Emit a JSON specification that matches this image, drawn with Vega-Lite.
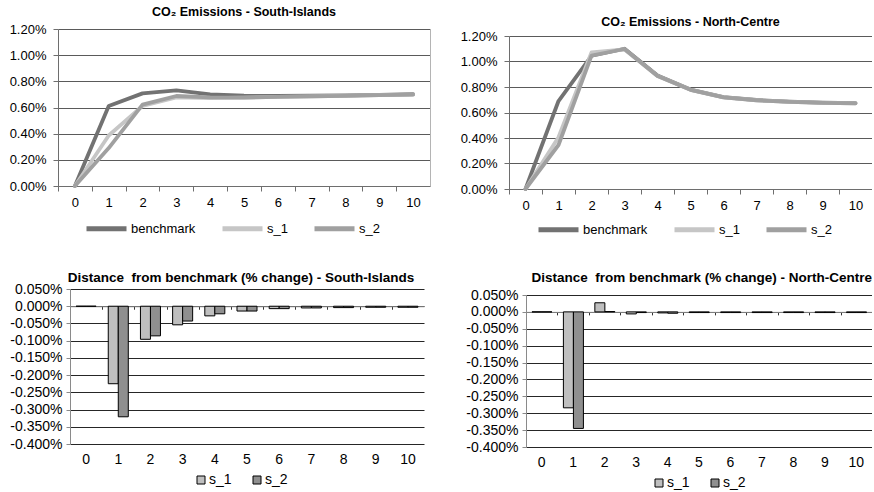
{
  "$schema": "https://vega.github.io/schema/vega-lite/v6.json",
  "padding": {"left": 2, "top": 5, "right": 0, "bottom": 0},
  "config": {
    "font": "Liberation Sans",
    "view": {"stroke": null},
    "axis": {"labelFont": "Liberation Sans", "labelColor": "#000"},
    "title": {"font": "Liberation Sans", "fontWeight": "bold", "fontSize": 13.5, "color": "#000"},
    "legend": {"labelFont": "Liberation Sans", "labelColor": "#000", "layout": {"bottom": {"anchor": "middle"}}}
  },
  "resolve": {"scale": {"color": "independent"}, "legend": {"color": "independent"}},
  "columns": 2,
  "align": "none",
  "bounds": "full",
  "spacing": {"column": 10, "row": 30},
  "concat": [
    {
      "width": 372, "height": 157,
      "title": {"text": "CO₂ Emissions - South-Islands", "offset": 5, "fontSize": 12.5},
      "data": {"name": "lines"},
      "transform": [{"filter": "datum.region == 'South-Islands'"}],
      "layer": [
        {
          "mark": {"type": "line", "strokeWidth": 3.8, "strokeJoin": "round", "strokeCap": "round"},
          "encoding": {
            "x": {"field": "t", "type": "ordinal", "scale": {"type": "point", "padding": 0.5},
              "axis": {"title": null, "labelAngle": 0, "labelFontSize": 13, "tickOffset": -16.91, "labelOffset": 16.91, "tickSize": 5, "labelPadding": 5, "domainColor": "#6e6e6e", "tickColor": "#6e6e6e", "grid": false}},
            "y": {"field": "value", "type": "quantitative", "scale": {"domain": [0, 1.2]},
              "axis": {"title": null, "values": [0, 0.2, 0.4, 0.6, 0.8, 1, 1.2], "labelExpr": "format(datum.value, '.2f') + '%'", "labelFontSize": 13, "tickSize": 5, "labelPadding": 7, "minExtent": 56, "maxExtent": 56, "grid": true, "gridColor": "#5a5a5a", "domainColor": "#6e6e6e", "tickColor": "#6e6e6e"}},
            "color": {"field": "series", "type": "nominal", "scale": {"domain": ["benchmark", "s_1", "s_2"], "range": ["#727272", "#c6c6c6", "#a0a0a0"]},
              "legend": {"orient": "none", "legendX": 26, "legendY": 177, "direction": "horizontal", "title": null, "symbolType": "stroke", "symbolStrokeWidth": 5, "symbolSize": 1600, "labelFontSize": 13, "columnPadding": 16, "labelOffset": 2}}
          }
        },
        {
          "mark": {"type": "point", "opacity": 0},
          "encoding": {
            "y": {"field": "value", "type": "quantitative", "axis": {"orient": "right", "title": null, "labels": false, "ticks": false, "grid": false, "domainColor": "#b4b4b4", "minExtent": 0, "maxExtent": 0}}
          }
        }
      ],
      "resolve": {"axis": {"y": "independent"}}
    },
    {
      "width": 363, "height": 160,
      "title": {"text": "CO₂ Emissions - North-Centre", "offset": 1, "fontSize": 12.5},
      "data": {"name": "lines"},
      "transform": [{"filter": "datum.region == 'North-Centre'"}],
      "layer": [
        {
          "mark": {"type": "line", "strokeWidth": 3.8, "strokeJoin": "round", "strokeCap": "round"},
          "encoding": {
            "x": {"field": "t", "type": "ordinal", "scale": {"type": "point", "padding": 0.5},
              "axis": {"title": null, "labelAngle": 0, "labelFontSize": 13, "tickOffset": -16.5, "labelOffset": 16.5, "tickSize": 5, "labelPadding": 5, "domainColor": "#6e6e6e", "tickColor": "#6e6e6e", "grid": false}},
            "y": {"field": "value", "type": "quantitative", "scale": {"domain": [0, 1.2], "range": [160, 7]},
              "axis": {"title": null, "values": [0, 0.2, 0.4, 0.6, 0.8, 1, 1.2], "labelExpr": "format(datum.value, '.2f') + '%'", "labelFontSize": 13, "tickSize": 5, "labelPadding": 7, "minExtent": 69, "maxExtent": 69, "grid": true, "gridColor": "#5a5a5a", "domainColor": "#6e6e6e", "tickColor": "#6e6e6e"}},
            "color": {"field": "series", "type": "nominal", "scale": {"domain": ["benchmark", "s_1", "s_2"], "range": ["#727272", "#c6c6c6", "#a0a0a0"]},
              "legend": {"orient": "none", "legendX": 27, "legendY": 178, "direction": "horizontal", "title": null, "symbolType": "stroke", "symbolStrokeWidth": 5, "symbolSize": 1600, "labelFontSize": 13, "columnPadding": 16, "labelOffset": 2}}
          }
        },
        {
          "mark": {"type": "point", "opacity": 0},
          "encoding": {
            "y": {"field": "value", "type": "quantitative", "axis": {"orient": "right", "title": null, "labels": false, "ticks": false, "grid": false, "domainColor": "#b4b4b4", "minExtent": 0, "maxExtent": 0}}
          }
        }
      ],
      "resolve": {"axis": {"y": "independent"}}
    },
    {
      "width": 366, "height": 155,
      "title": {"text": "Distance\u00a0 from benchmark (% change) - South-Islands", "offset": -2},
      "data": {"name": "diffs"},
      "transform": [{"filter": "datum.region == 'South-Islands'"}],
      "layer": [
        {
          "mark": {"type": "bar", "stroke": "#000", "strokeWidth": 1},
          "encoding": {
            "x": {"field": "t", "type": "ordinal", "scale": {"type": "band", "range": [12, 366], "paddingInner": 0.378, "paddingOuter": 0.189},
              "axis": {"title": null, "labelAngle": 0, "labelFontSize": 14, "domain": false, "ticks": false, "tickSize": 0, "labelPadding": 8, "grid": false}},
            "xOffset": {"field": "series", "type": "nominal"},
            "y": {"field": "value", "type": "quantitative", "scale": {"domain": [-0.4, 0.05]},
              "axis": {"title": null, "values": [-0.4, -0.35, -0.3, -0.25, -0.2, -0.15, -0.1, -0.05, 0, 0.05], "labelExpr": "(datum.value < -0.0001 ? '-' : '') + format(abs(datum.value), '.3f') + '%'", "labelFontSize": 14, "offset": -12, "tickSize": 4, "labelPadding": 4, "minExtent": 0, "grid": true, "gridColor": "#262626", "domainColor": "#8a8a8a", "tickColor": "#8a8a8a"}},
            "color": {"field": "series", "type": "nominal", "scale": {"domain": ["s_1", "s_2"], "range": ["#bfbfbf", "#8f8f8f"]},
              "legend": {"orient": "bottom", "direction": "horizontal", "title": null, "symbolType": "square", "symbolSize": 64, "symbolStrokeColor": "#000", "symbolStrokeWidth": 1, "labelFontSize": 14, "columnPadding": 18, "labelOffset": 1, "offset": 7}}
          }
        },
        {
          "mark": {"type": "point", "opacity": 0},
          "encoding": {
            "x": {"field": "t", "type": "ordinal", "axis": {"orient": "bottom", "title": null, "labels": false, "offset": -137.78, "tickSize": 3, "bandPosition": 0.5, "tickOffset": -16.09, "domainColor": "#8a8a8a", "tickColor": "#333", "grid": false}}
          }
        }
      ],
      "resolve": {"axis": {"x": "independent"}}
    },
    {
      "width": 346, "height": 152,
      "title": {"text": "Distance\u00a0 from benchmark (% change) - North-Centre", "offset": 4, "anchor": "end"},
      "data": {"name": "diffs"},
      "transform": [{"filter": "datum.region == 'North-Centre'"}],
      "layer": [
        {
          "mark": {"type": "bar", "stroke": "#000", "strokeWidth": 1},
          "encoding": {
            "x": {"field": "t", "type": "ordinal", "scale": {"type": "band", "paddingInner": 0.378, "paddingOuter": 0.189},
              "axis": {"title": null, "labelAngle": 0, "labelFontSize": 14, "domain": false, "ticks": false, "tickSize": 0, "labelPadding": 8, "grid": false}},
            "xOffset": {"field": "series", "type": "nominal"},
            "y": {"field": "value", "type": "quantitative", "scale": {"domain": [-0.4, 0.05]},
              "axis": {"title": null, "values": [-0.4, -0.35, -0.3, -0.25, -0.2, -0.15, -0.1, -0.05, 0, 0.05], "labelExpr": "(datum.value < -0.0001 ? '-' : '') + format(abs(datum.value), '.3f') + '%'", "labelFontSize": 14, "tickSize": 4, "labelPadding": 4, "minExtent": 86, "maxExtent": 86, "grid": true, "gridColor": "#262626", "domainColor": "#8a8a8a", "tickColor": "#8a8a8a"}},
            "color": {"field": "series", "type": "nominal", "scale": {"domain": ["s_1", "s_2"], "range": ["#bfbfbf", "#8f8f8f"]},
              "legend": {"orient": "bottom", "direction": "horizontal", "title": null, "symbolType": "square", "symbolSize": 64, "symbolStrokeColor": "#000", "symbolStrokeWidth": 1, "labelFontSize": 14, "columnPadding": 18, "labelOffset": 1, "offset": 7}}
          }
        },
        {
          "mark": {"type": "point", "opacity": 0},
          "encoding": {
            "x": {"field": "t", "type": "ordinal", "axis": {"orient": "bottom", "title": null, "labels": false, "offset": -135.11, "tickSize": 3, "bandPosition": 0.5, "tickOffset": -15.73, "domainColor": "#8a8a8a", "tickColor": "#333", "grid": false}}
          }
        }
      ],
      "resolve": {"axis": {"x": "independent"}}
    }
  ],
  "datasets": {
    "lines": [
      {"region": "South-Islands", "series": "benchmark", "t": 0, "value": 0},
      {"region": "South-Islands", "series": "benchmark", "t": 1, "value": 0.611},
      {"region": "South-Islands", "series": "benchmark", "t": 2, "value": 0.708},
      {"region": "South-Islands", "series": "benchmark", "t": 3, "value": 0.731},
      {"region": "South-Islands", "series": "benchmark", "t": 4, "value": 0.700},
      {"region": "South-Islands", "series": "benchmark", "t": 5, "value": 0.690},
      {"region": "South-Islands", "series": "benchmark", "t": 6, "value": 0.688},
      {"region": "South-Islands", "series": "benchmark", "t": 7, "value": 0.690},
      {"region": "South-Islands", "series": "benchmark", "t": 8, "value": 0.693},
      {"region": "South-Islands", "series": "benchmark", "t": 9, "value": 0.697},
      {"region": "South-Islands", "series": "benchmark", "t": 10, "value": 0.702},
      {"region": "South-Islands", "series": "s_1", "t": 0, "value": 0},
      {"region": "South-Islands", "series": "s_1", "t": 1, "value": 0.386},
      {"region": "South-Islands", "series": "s_1", "t": 2, "value": 0.612},
      {"region": "South-Islands", "series": "s_1", "t": 3, "value": 0.677},
      {"region": "South-Islands", "series": "s_1", "t": 4, "value": 0.672},
      {"region": "South-Islands", "series": "s_1", "t": 5, "value": 0.676},
      {"region": "South-Islands", "series": "s_1", "t": 6, "value": 0.681},
      {"region": "South-Islands", "series": "s_1", "t": 7, "value": 0.685},
      {"region": "South-Islands", "series": "s_1", "t": 8, "value": 0.689},
      {"region": "South-Islands", "series": "s_1", "t": 9, "value": 0.694},
      {"region": "South-Islands", "series": "s_1", "t": 10, "value": 0.699},
      {"region": "South-Islands", "series": "s_2", "t": 0, "value": 0},
      {"region": "South-Islands", "series": "s_2", "t": 1, "value": 0.290},
      {"region": "South-Islands", "series": "s_2", "t": 2, "value": 0.622},
      {"region": "South-Islands", "series": "s_2", "t": 3, "value": 0.688},
      {"region": "South-Islands", "series": "s_2", "t": 4, "value": 0.678},
      {"region": "South-Islands", "series": "s_2", "t": 5, "value": 0.676},
      {"region": "South-Islands", "series": "s_2", "t": 6, "value": 0.681},
      {"region": "South-Islands", "series": "s_2", "t": 7, "value": 0.685},
      {"region": "South-Islands", "series": "s_2", "t": 8, "value": 0.689},
      {"region": "South-Islands", "series": "s_2", "t": 9, "value": 0.694},
      {"region": "South-Islands", "series": "s_2", "t": 10, "value": 0.699},
      {"region": "North-Centre", "series": "benchmark", "t": 0, "value": 0},
      {"region": "North-Centre", "series": "benchmark", "t": 1, "value": 0.690},
      {"region": "North-Centre", "series": "benchmark", "t": 2, "value": 1.045},
      {"region": "North-Centre", "series": "benchmark", "t": 3, "value": 1.100},
      {"region": "North-Centre", "series": "benchmark", "t": 4, "value": 0.890},
      {"region": "North-Centre", "series": "benchmark", "t": 5, "value": 0.780},
      {"region": "North-Centre", "series": "benchmark", "t": 6, "value": 0.720},
      {"region": "North-Centre", "series": "benchmark", "t": 7, "value": 0.698},
      {"region": "North-Centre", "series": "benchmark", "t": 8, "value": 0.685},
      {"region": "North-Centre", "series": "benchmark", "t": 9, "value": 0.677},
      {"region": "North-Centre", "series": "benchmark", "t": 10, "value": 0.674},
      {"region": "North-Centre", "series": "s_1", "t": 0, "value": 0},
      {"region": "North-Centre", "series": "s_1", "t": 1, "value": 0.406},
      {"region": "North-Centre", "series": "s_1", "t": 2, "value": 1.072},
      {"region": "North-Centre", "series": "s_1", "t": 3, "value": 1.094},
      {"region": "North-Centre", "series": "s_1", "t": 4, "value": 0.887},
      {"region": "North-Centre", "series": "s_1", "t": 5, "value": 0.778},
      {"region": "North-Centre", "series": "s_1", "t": 6, "value": 0.718},
      {"region": "North-Centre", "series": "s_1", "t": 7, "value": 0.696},
      {"region": "North-Centre", "series": "s_1", "t": 8, "value": 0.683},
      {"region": "North-Centre", "series": "s_1", "t": 9, "value": 0.675},
      {"region": "North-Centre", "series": "s_1", "t": 10, "value": 0.672},
      {"region": "North-Centre", "series": "s_2", "t": 0, "value": 0},
      {"region": "North-Centre", "series": "s_2", "t": 1, "value": 0.345},
      {"region": "North-Centre", "series": "s_2", "t": 2, "value": 1.046},
      {"region": "North-Centre", "series": "s_2", "t": 3, "value": 1.098},
      {"region": "North-Centre", "series": "s_2", "t": 4, "value": 0.886},
      {"region": "North-Centre", "series": "s_2", "t": 5, "value": 0.778},
      {"region": "North-Centre", "series": "s_2", "t": 6, "value": 0.718},
      {"region": "North-Centre", "series": "s_2", "t": 7, "value": 0.696},
      {"region": "North-Centre", "series": "s_2", "t": 8, "value": 0.683},
      {"region": "North-Centre", "series": "s_2", "t": 9, "value": 0.675},
      {"region": "North-Centre", "series": "s_2", "t": 10, "value": 0.672}
    ],
    "diffs": [
      {"region": "South-Islands", "series": "s_1", "t": 0, "value": 0},
      {"region": "South-Islands", "series": "s_1", "t": 1, "value": -0.225},
      {"region": "South-Islands", "series": "s_1", "t": 2, "value": -0.096},
      {"region": "South-Islands", "series": "s_1", "t": 3, "value": -0.054},
      {"region": "South-Islands", "series": "s_1", "t": 4, "value": -0.028},
      {"region": "South-Islands", "series": "s_1", "t": 5, "value": -0.014},
      {"region": "South-Islands", "series": "s_1", "t": 6, "value": -0.007},
      {"region": "South-Islands", "series": "s_1", "t": 7, "value": -0.005},
      {"region": "South-Islands", "series": "s_1", "t": 8, "value": -0.004},
      {"region": "South-Islands", "series": "s_1", "t": 9, "value": -0.003},
      {"region": "South-Islands", "series": "s_1", "t": 10, "value": -0.003},
      {"region": "South-Islands", "series": "s_2", "t": 0, "value": 0},
      {"region": "South-Islands", "series": "s_2", "t": 1, "value": -0.321},
      {"region": "South-Islands", "series": "s_2", "t": 2, "value": -0.086},
      {"region": "South-Islands", "series": "s_2", "t": 3, "value": -0.043},
      {"region": "South-Islands", "series": "s_2", "t": 4, "value": -0.022},
      {"region": "South-Islands", "series": "s_2", "t": 5, "value": -0.014},
      {"region": "South-Islands", "series": "s_2", "t": 6, "value": -0.007},
      {"region": "South-Islands", "series": "s_2", "t": 7, "value": -0.005},
      {"region": "South-Islands", "series": "s_2", "t": 8, "value": -0.004},
      {"region": "South-Islands", "series": "s_2", "t": 9, "value": -0.003},
      {"region": "South-Islands", "series": "s_2", "t": 10, "value": -0.003},
      {"region": "North-Centre", "series": "s_1", "t": 0, "value": 0},
      {"region": "North-Centre", "series": "s_1", "t": 1, "value": -0.284},
      {"region": "North-Centre", "series": "s_1", "t": 2, "value": 0.027},
      {"region": "North-Centre", "series": "s_1", "t": 3, "value": -0.006},
      {"region": "North-Centre", "series": "s_1", "t": 4, "value": -0.003},
      {"region": "North-Centre", "series": "s_1", "t": 5, "value": -0.002},
      {"region": "North-Centre", "series": "s_1", "t": 6, "value": -0.002},
      {"region": "North-Centre", "series": "s_1", "t": 7, "value": -0.002},
      {"region": "North-Centre", "series": "s_1", "t": 8, "value": -0.002},
      {"region": "North-Centre", "series": "s_1", "t": 9, "value": -0.002},
      {"region": "North-Centre", "series": "s_1", "t": 10, "value": -0.002},
      {"region": "North-Centre", "series": "s_2", "t": 0, "value": 0},
      {"region": "North-Centre", "series": "s_2", "t": 1, "value": -0.345},
      {"region": "North-Centre", "series": "s_2", "t": 2, "value": 0.001},
      {"region": "North-Centre", "series": "s_2", "t": 3, "value": -0.002},
      {"region": "North-Centre", "series": "s_2", "t": 4, "value": -0.004},
      {"region": "North-Centre", "series": "s_2", "t": 5, "value": -0.002},
      {"region": "North-Centre", "series": "s_2", "t": 6, "value": -0.002},
      {"region": "North-Centre", "series": "s_2", "t": 7, "value": -0.002},
      {"region": "North-Centre", "series": "s_2", "t": 8, "value": -0.002},
      {"region": "North-Centre", "series": "s_2", "t": 9, "value": -0.002},
      {"region": "North-Centre", "series": "s_2", "t": 10, "value": -0.002}
    ]
  }
}
